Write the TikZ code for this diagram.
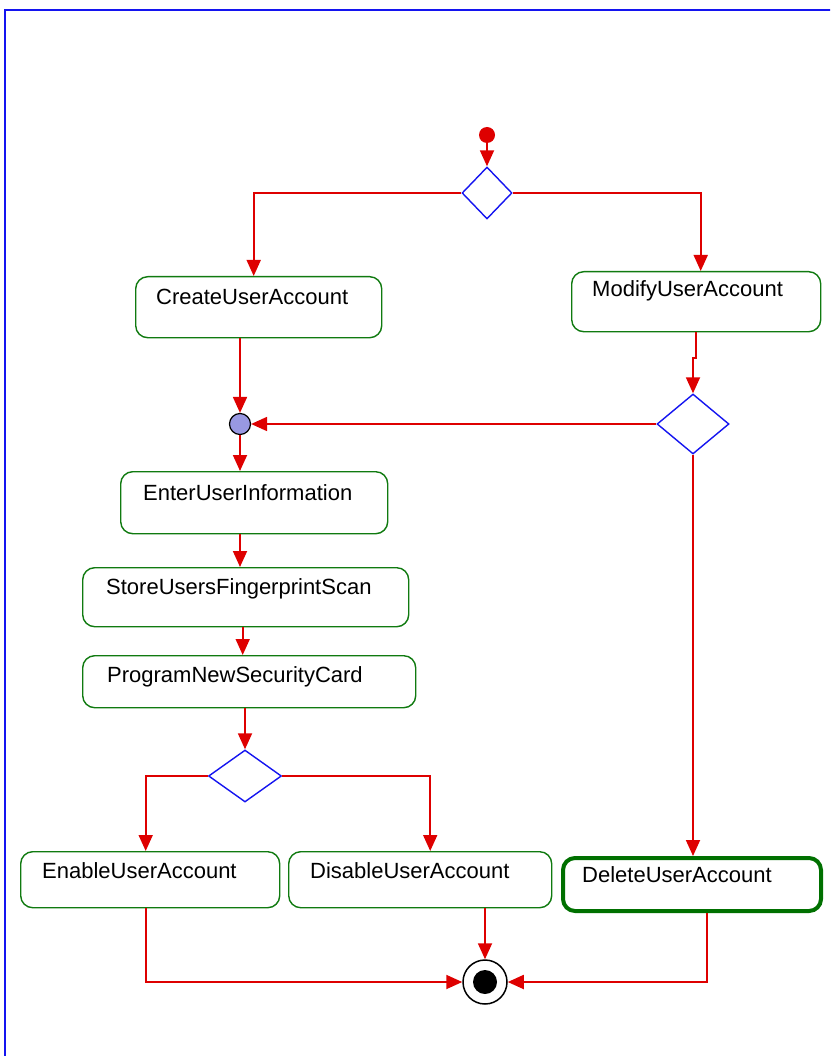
\documentclass[tikz,border=0pt]{standalone}
\usepackage{fontspec}
\setmainfont{Liberation Sans}
\usetikzlibrary{arrows.meta,shapes.geometric,calc}

\definecolor{flowred}{RGB}{222,0,0}
\definecolor{boxgreen}{RGB}{16,122,16}
\definecolor{deepgreen}{RGB}{0,112,0}
\definecolor{framblue}{RGB}{20,20,240}
\definecolor{mergefill}{RGB}{152,152,226}

\tikzset{
  actbox/.style={draw=boxgreen, line width=1.4pt, rounded corners=12pt,
    anchor=north west, inner sep=0pt},
  actlabel/.style={anchor=base west, inner sep=0pt,
    font=\fontsize{22}{26}\selectfont},
  decision/.style={diamond, draw=framblue, line width=1.4pt, inner sep=0pt,
    fill=white},
  flow/.style={draw=flowred, line width=1.8pt,
    -{Triangle[length=16pt,width=14pt]}},
}

\begin{document}
\begin{tikzpicture}[x=1pt,y=-1pt]
\useasboundingbox (0,0) rectangle (830,1056);

% outer frame, running past the right and bottom edges
\begin{scope}
  \clip (0,0) rectangle (830,1056);
  \draw[framblue, line width=2pt] (5,10) rectangle (845,1075);
\end{scope}

% start and decisions
\node[circle, fill=flowred, inner sep=0pt, minimum size=16pt] (start) at (487,135) {};
\node[decision, minimum width=50pt, minimum height=52pt] (d1) at (487,193) {};
\node[decision, minimum width=72pt, minimum height=60pt] (d2) at (693,424) {};
\node[decision, minimum width=73pt, minimum height=52pt] (d3) at (245,776) {};

% merge and final nodes
\node[circle, draw=black, fill=mergefill, line width=1.2pt, inner sep=0pt,
      minimum size=21pt] (m) at (240,424) {};
\node[circle, draw=black, line width=1.5pt, fill=white, inner sep=0pt,
      minimum size=44pt] (fin) at (485,982) {};
\node[circle, fill=black, inner sep=0pt, minimum size=24pt] (finc) at (fin.center) {};

% activities
\node[actbox, minimum width=246pt, minimum height=61pt] (ca)  at (135,276) {};
\node[actbox, minimum width=249pt, minimum height=60pt] (ma)  at (571,271) {};
\node[actbox, minimum width=267pt, minimum height=62pt] (ei)  at (120,471) {};
\node[actbox, minimum width=326pt, minimum height=59pt] (su)  at (82,567) {};
\node[actbox, minimum width=333pt, minimum height=52pt] (pn)  at (82,655) {};
\node[actbox, minimum width=259pt, minimum height=56pt] (en)  at (20,851) {};
\node[actbox, minimum width=263pt, minimum height=56pt] (di)  at (288,851) {};
\node[actbox, draw=deepgreen, line width=4pt, minimum width=258pt,
      minimum height=53pt] (del) at (561,856) {};

\node[actlabel] (caT)  at ($(ca.north west)+(21,28)$)  {CreateUserAccount};
\node[actlabel] (maT)  at ($(ma.north west)+(21,25)$)  {ModifyUserAccount};
\node[actlabel] (eiT)  at ($(ei.north west)+(23,29)$)  {EnterUserInformation};
\node[actlabel] (suT)  at ($(su.north west)+(24,27)$)  {StoreUsersFingerprintScan};
\node[actlabel] (pnT)  at ($(pn.north west)+(25,27)$)  {ProgramNewSecurityCard};
\node[actlabel] (enT)  at ($(en.north west)+(22,27)$)  {EnableUserAccount};
\node[actlabel] (diT)  at ($(di.north west)+(22,27)$)  {DisableUserAccount};
\node[actlabel] (delT) at ($(del.north west)+(21,26)$) {DeleteUserAccount};

% control flow
\draw[flow] (start) -- (d1.north);
\draw[flow] (d1.west) -| ([xshift=-5pt]ca.north);
\draw[flow] (d1.east) -| ([xshift=4.5pt]ma.north);
\draw[flow] (ca.south -| m.north) -- (m.north);
\draw[flow] (ma.south) -- ([yshift=35pt]d2.north -| ma.south)
            -- ([yshift=35pt]d2.north) -- (d2.north);
\draw[flow] (d2.west) -- (m.east);
\draw[flow] (d2.south) -- (d2.south |- del.north);
\draw[flow] (m.south) -- (m.south |- ei.north);
\draw[flow] (ei.south -| m.south) -- (m.south |- su.north);
\draw[flow] ([xshift=-3pt]su.south) -- ([xshift=-3pt]su.south |- pn.north);
\draw[flow] (pn.south -| d3.north) -- (d3.north);
\draw[flow] (d3.west) -| ([xshift=-4.5pt]en.north);
\draw[flow] (d3.east) -| ([xshift=10pt]di.north);
\draw[flow] ([xshift=-4.5pt]en.south) |- (fin.west);
\draw[flow] (di.south -| fin.north) -- (fin.north);
\draw[flow] ([xshift=15pt]del.south) |- (fin.east);
\end{tikzpicture}
\end{document}
